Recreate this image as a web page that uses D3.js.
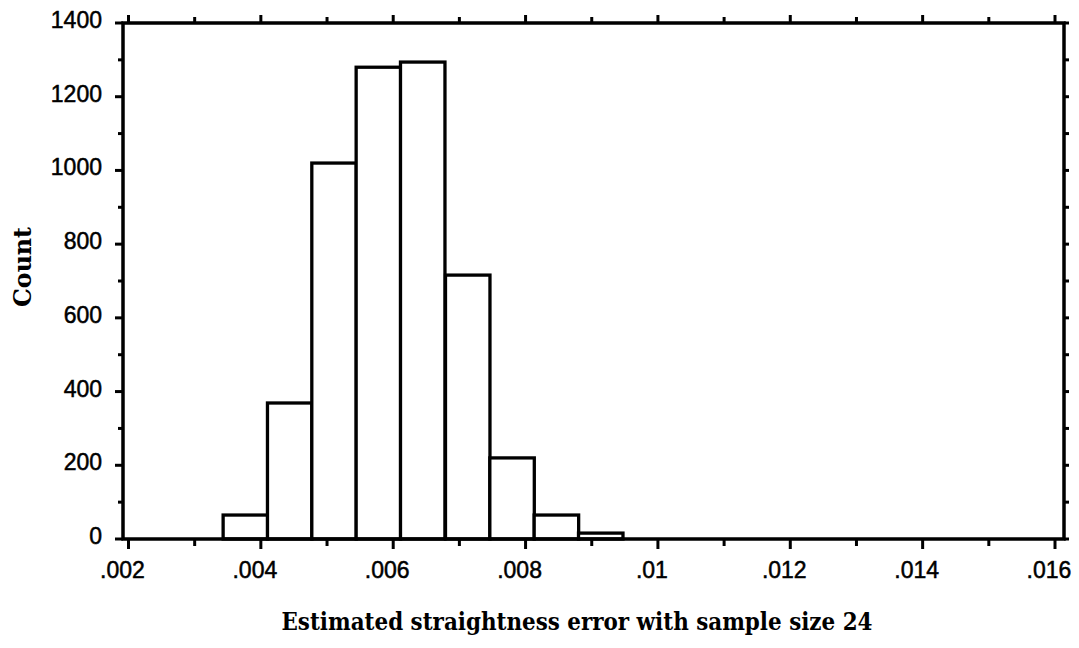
<!DOCTYPE html>
<html>
<head>
<meta charset="utf-8">
<script src="https://cdn.jsdelivr.net/npm/d3@7"></script>
<style>
	body { margin: 0; background: #fff; }
</style>
</head>
<body>
<div id="chart"></div>
<script>
// bin edges (lower edge of each bar) and counts
const binStarts = [0.00343, 0.00410, 0.00477, 0.00544, 0.00611, 0.00679, 0.00746, 0.00813, 0.00880]
const binWidth = 0.000672
const counts = [65, 369, 1020, 1280, 1294, 716, 220, 65, 16]

const xMajor = [0.002, 0.004, 0.006, 0.008, 0.010, 0.012, 0.014, 0.016]
const xMinor = [0.003, 0.005, 0.007, 0.009, 0.011, 0.013, 0.015]
const yMajor = [0, 200, 400, 600, 800, 1000, 1200, 1400]
const yMinor = [100, 300, 500, 700, 900, 1100, 1300]

const xTitle = "Estimated straightness error with sample size 24"
const yTitle = "Count"

drawHist()

function drawHist() {
	const width = 1079
	const height = 648

	const svg = d3.select('#chart')
		.append("svg")
		.attr("width", width)
		.attr("height", height)

	// frame edges in px
	const left = 123, right = 1064, top = 23, bottom = 539

	const x = d3.scaleLinear()
		.domain([0.001917, 0.016136])
		.range([left, right])

	const y = d3.scaleLinear()
		.domain([0, 1400])
		.range([bottom, top])

	const fmt = d => String(+d.toFixed(3)).replace(/^0/, '')

	// bars
	svg.append("g")
		.selectAll("rect")
		.data(counts)
		.join("rect")
		.attr("x", (d, i) => x(binStarts[i]))
		.attr("y", d => y(d))
		.attr("width", (d, i) => x(binStarts[i] + binWidth) - x(binStarts[i]))
		.attr("height", d => y(0) - y(d))
		.attr("fill", "#fff")
		.attr("stroke", "#000")
		.attr("stroke-width", 3.3)

	// ticks, all four sides
	const ticks = svg.append("g")
		.attr("stroke", "#000")
		.attr("stroke-width", 3)

	const tickSet = [
		{ vals: xMajor, len: 10, side: "bottom" },
		{ vals: xMinor, len: 7, side: "bottom" },
		{ vals: xMajor, len: 8, side: "top" },
		{ vals: xMinor, len: 6, side: "top" },
		{ vals: yMajor, len: 8, side: "left" },
		{ vals: yMinor, len: 5, side: "left" },
		{ vals: yMajor, len: 5, side: "right" },
		{ vals: yMinor, len: 5, side: "right" }
	]

	tickSet.forEach(function(t) {
		ticks.append("g")
			.selectAll("line")
			.data(t.vals)
			.join("line")
			.attr("x1", d => t.side == "bottom" || t.side == "top" ? x(d) : (t.side == "left" ? left : right))
			.attr("x2", d => t.side == "bottom" || t.side == "top" ? x(d) : (t.side == "left" ? left - t.len : right + t.len))
			.attr("y1", d => t.side == "left" || t.side == "right" ? y(d) : (t.side == "bottom" ? bottom : top))
			.attr("y2", d => t.side == "left" || t.side == "right" ? y(d) : (t.side == "bottom" ? bottom + t.len : top - t.len))
	})

	// frame
	svg.append("rect")
		.attr("x", left)
		.attr("y", top)
		.attr("width", right - left)
		.attr("height", bottom - top)
		.attr("fill", "none")
		.attr("stroke", "#000")
		.attr("stroke-width", 3.5)

	// tick labels
	svg.append("g")
		.selectAll("text")
		.data(xMajor)
		.join("text")
		.attr("x", d => x(d) - 6)
		.attr("y", bottom + 39)
		.attr("text-anchor", "middle")
		.style("font-family", "Liberation Sans, Arial, sans-serif")
		.style("font-size", "23px")
		.style("stroke", "#000")
		.style("stroke-width", 0.5)
		.text(fmt)

	svg.append("g")
		.selectAll("text")
		.data(yMajor)
		.join("text")
		.attr("x", 102)
		.attr("y", d => y(d) + 5)
		.attr("text-anchor", "end")
		.style("font-family", "Liberation Sans, Arial, sans-serif")
		.style("font-size", "23px")
		.style("stroke", "#000")
		.style("stroke-width", 0.5)
		.text(d => d)

	// axis titles
	svg.append("text")
		.attr("transform", `translate(${31},${267}) rotate(-90)`)
		.attr("text-anchor", "middle")
		.style("font-family", "DejaVu Serif, serif")
		.style("font-weight", "bold")
		.style("font-size", "24px")
		.attr("textLength", 80)
		.attr("lengthAdjust", "spacingAndGlyphs")
		.text(yTitle)

	svg.append("text")
		.attr("x", 577)
		.attr("y", 630)
		.attr("text-anchor", "middle")
		.style("font-family", "DejaVu Serif, serif")
		.style("font-weight", "bold")
		.style("font-size", "24px")
		.attr("textLength", 591)
		.attr("lengthAdjust", "spacingAndGlyphs")
		.text(xTitle)
}
</script>
</body>
</html>
